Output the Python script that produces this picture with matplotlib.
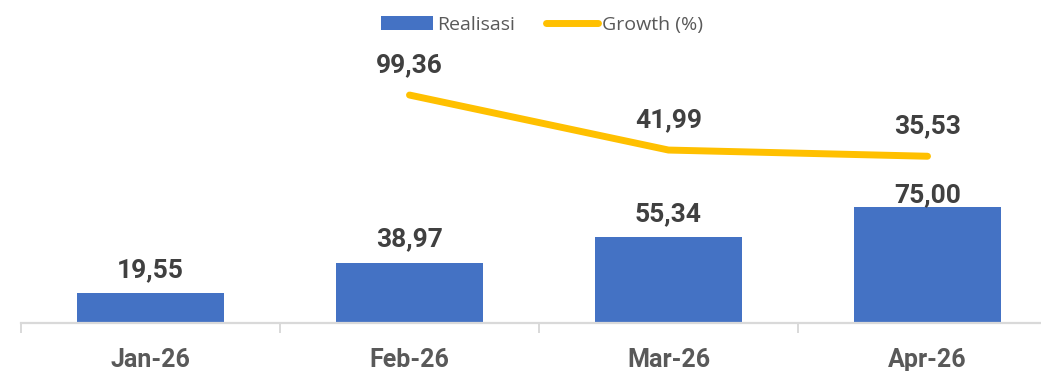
import matplotlib
matplotlib.use("Agg")
import matplotlib.pyplot as plt
from matplotlib.lines import Line2D
from matplotlib.patches import Patch

months = ["Jan-26", "Feb-26", "Mar-26", "Apr-26"]
realisasi = [19.55, 38.97, 55.34, 75.00]
growth_months = ["Feb-26", "Mar-26", "Apr-26"]
growth = [99.36, 41.99, 35.53]

BAR_COLOR = "#4472C4"
LINE_COLOR = "#FFC000"
LABEL_COLOR = "#404040"
TICK_COLOR = "#595959"
AXIS_COLOR = "#D9D9D9"

# px gap between bar top and its value label (last one squeezed under the line label)
bar_label_pad = [16, 16, 16, 5]


def fmt(v):
    return f"{v:.2f}".replace(".", ",")


fig = plt.figure(figsize=(10.41, 3.71), dpi=100)
ax = fig.add_axes([21 / 1041, 48 / 371, 1036 / 1041, 323 / 371])
ax2 = ax.twinx()

x = list(range(len(months)))
ax.bar(x, realisasi, width=0.57, color=BAR_COLOR, zorder=2)
ax.set_xlim(-0.5, len(months) - 0.5)
ax.set_ylim(0, 208.8)

gx = [months.index(m) for m in growth_months]
ax2.plot(gx, growth, color=LINE_COLOR, linewidth=5, solid_capstyle="round",
         solid_joinstyle="round", zorder=3)
ax2.set_ylim(-138.4, 198.5)

label_font = dict(family="Roboto", fontweight="bold", fontsize=19, color=LABEL_COLOR,
                  ha="center", va="baseline")
for xi, v, pad in zip(x, realisasi, bar_label_pad):
    ax.annotate(fmt(v), (xi, v), xytext=(0, pad * 0.72), textcoords="offset points",
                **label_font)
for xi, v in zip(gx, growth):
    ax2.annotate(fmt(v), (xi, v), xytext=(0, 23 * 0.72), textcoords="offset points",
                 **label_font)

for a in (ax, ax2):
    for side in ("top", "right", "left"):
        a.spines[side].set_visible(False)
ax2.spines["bottom"].set_visible(False)
ax.spines["bottom"].set_color(AXIS_COLOR)
ax.spines["bottom"].set_linewidth(1.6)
ax.set_yticks([])
ax2.set_yticks([])

ax.set_xticks(x)
ax.set_xticklabels(months, family="Roboto", fontweight="bold", fontsize=18,
                   color=TICK_COLOR)
ax.tick_params(axis="x", which="major", length=0, pad=18)
ax.set_xticks([i - 0.5 for i in range(len(months) + 1)], minor=True)
ax.tick_params(axis="x", which="minor", length=7.5, width=1.4, color=AXIS_COLOR)

handles = [
    Patch(facecolor=BAR_COLOR, label="Realisasi"),
    Line2D([0], [0], color=LINE_COLOR, linewidth=5, solid_capstyle="round",
           label="Growth (%)"),
]
fig.legend(handles=handles, loc="upper center", bbox_to_anchor=(542 / 1041, 1.005),
           ncol=2, frameon=False, handlelength=2.7, handleheight=0.75,
           handletextpad=0.2, columnspacing=1.6,
           prop=dict(family="Open Sans", size=14))
for t in fig.legends[0].get_texts():
    t.set_color(TICK_COLOR)

fig.savefig("out.png", dpi=100)
